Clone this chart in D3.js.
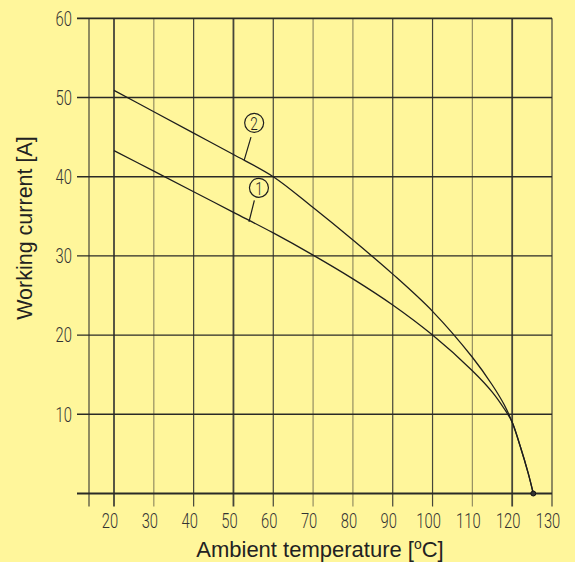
<!DOCTYPE html>
<html lang="en">
<head>
	<meta charset="UTF-8">
	<title>Working current vs ambient temperature</title>
	<script src="https://d3js.org/d3.v7.min.js"></script>
	<style>
		html, body {
			margin: 0;
			padding: 0;
			background-color: #fff69b;
		}
		svg {
			display: block;
		}
		.tick-label {
			font-family: Roboto, "Liberation Sans Narrow", sans-serif;
			font-weight: 300;
			font-size: 20.5px;
			fill: #333;
		}
		.title {
			font-family: Arial, "Liberation Sans", sans-serif;
			font-size: 22px;
			fill: #222;
		}
	</style>
</head>
<body>
<div id="chart"></div>
<script>
	// Tick values
	const xTicks = [20, 30, 40, 50, 60, 70, 80, 90, 100, 110, 120, 130];
	const yTicks = [0, 10, 20, 30, 40, 50, 60];
	const yTickLabels = ["", "10", "20", "30", "40", "50", "60"];

	// Curve 1 (lower) and curve 2 (upper): [temperature, current]
	const curve1 = [
		[20, 43.3], [30, 40.7], [40, 38.1], [50, 35.5], [60, 32.9], [70, 30.1],
		[80, 27.1], [90, 23.8], [100, 20.0], [110, 15.5], [115, 12.8], [118, 10.7],
		[120, 9.0], [122, 6.0], [124, 2.6], [125.3, 0]
	];
	const curve2 = [
		[20, 50.9], [30, 48.2], [40, 45.5], [50, 42.8], [60, 40.0], [70, 36.1],
		[80, 32.0], [90, 27.7], [100, 23.0], [110, 17.2], [115, 13.7], [118, 11.2],
		[120, 9.0], [122, 6.0], [124, 2.6], [125.3, 0]
	];

	// Circled curve labels with leader lines (data coordinates)
	const curveLabels = [
		{ text: "2", cx: 55.2, cy: 46.8, x1: 54.4, y1: 45.0, x2: 52.7, y2: 42.1 },
		{ text: "1", cx: 56.4, cy: 38.6, x1: 55.25, y1: 37.0, x2: 53.9, y2: 34.3 }
	];

	const sizeX = 575;
	const sizeY = 562;
	const squeeze = 0.72; // condensed look of the tick font

	const svg = d3.create("svg")
		.attr("width", sizeX)
		.attr("height", sizeY);

	const xScale = d3.scaleLinear().domain([20, 130]).range([114, 552]);
	const yScale = d3.scaleLinear().domain([0, 60]).range([493.5, 18.3]);

	const gridLeft = xScale(20) - 37;   // horizontal lines stick out to the left
	const frameLeft = xScale(20) - 25;  // left vertical frame line
	const gridBottom = yScale(0) + 13;  // vertical lines stick out below

	// some lines in the scan are greyer, some heavier
	const greyTicks = [30, 70, 80, 110];
	const heavyTicks = [20, 50, 120];

	const grid = svg.append("g");

	// left frame line
	grid.append("line")
		.attr("x1", frameLeft).attr("x2", frameLeft)
		.attr("y1", yScale(60)).attr("y2", gridBottom)
		.attr("stroke", "#45453a")
		.attr("stroke-width", 1.2);

	// vertical grid lines
	grid.selectAll(".vline")
		.data(xTicks)
		.join("line")
		.attr("class", "vline")
		.attr("x1", d => xScale(d)).attr("x2", d => xScale(d))
		.attr("y1", yScale(60)).attr("y2", gridBottom)
		.attr("stroke", d => greyTicks.includes(d) ? "#948e62" : "#45453a")
		.attr("stroke-width", d => heavyTicks.includes(d) ? 1.8 : 1.2);

	// horizontal grid lines
	grid.selectAll(".hline")
		.data(yTicks)
		.join("line")
		.attr("class", "hline")
		.attr("x1", gridLeft).attr("x2", xScale(130))
		.attr("y1", d => yScale(d)).attr("y2", d => yScale(d))
		.attr("stroke", "#2a2a26")
		.attr("stroke-width", d => d === 60 || d === 0 ? 1.8 : 1.4);

	// y tick labels
	svg.selectAll(".ylab")
		.data(yTicks)
		.join("text")
		.attr("class", "tick-label")
		.attr("transform", d => `translate(${gridLeft - 5},${yScale(d)}) scale(${squeeze},1)`)
		.attr("dy", "0.36em")
		.attr("text-anchor", "end")
		.text((d, i) => yTickLabels[i]);

	// x tick labels
	svg.selectAll(".xlab")
		.data(xTicks)
		.join("text")
		.attr("class", "tick-label")
		.attr("transform", d => `translate(${xScale(d) - 4},528) scale(${squeeze},1)`)
		.attr("text-anchor", "middle")
		.text(d => d);

	// curves
	const line = d3.line()
		.x(d => xScale(d[0]))
		.y(d => yScale(d[1]))
		.curve(d3.curveCatmullRom.alpha(0.5));

	[curve1, curve2].forEach(c => {
		svg.append("path")
			.datum(c)
			.attr("d", line)
			.attr("fill", "none")
			.attr("stroke", "#1e1e1e")
			.attr("stroke-width", 1.3);
	});

	// end point
	svg.append("circle")
		.attr("cx", xScale(125.3))
		.attr("cy", yScale(0))
		.attr("r", 2.5)
		.attr("fill", "#333")
		.attr("stroke", "#111");

	// circled labels
	curveLabels.forEach(l => {
		svg.append("line")
			.attr("x1", xScale(l.x1)).attr("y1", yScale(l.y1))
			.attr("x2", xScale(l.x2)).attr("y2", yScale(l.y2))
			.attr("stroke", "#1e1e1e")
			.attr("stroke-width", 1.2);
		svg.append("circle")
			.attr("cx", xScale(l.cx)).attr("cy", yScale(l.cy))
			.attr("r", 9.5)
			.attr("fill", "none")
			.attr("stroke", "#1e1e1e")
			.attr("stroke-width", 1.2);
		svg.append("text")
			.attr("class", "tick-label")
			.attr("transform", `translate(${xScale(l.cx)},${yScale(l.cy)}) scale(${squeeze},1)`)
			.attr("dy", "0.36em")
			.attr("text-anchor", "middle")
			.style("font-size", "19px")
			.style("fill", "#1e1e1e")
			.text(l.text);
	});

	// axis titles
	const xTitle = svg.append("text")
		.attr("class", "title")
		.attr("x", 320)
		.attr("y", 557)
		.attr("text-anchor", "middle")
		.text("Ambient temperature [");
	xTitle.append("tspan")
		.attr("dy", -8)
		.style("font-size", "14px")
		.text("o");
	xTitle.append("tspan")
		.attr("dy", 8)
		.text("C]");

	svg.append("text")
		.attr("class", "title")
		.attr("transform", "translate(32,228) rotate(-90)")
		.attr("text-anchor", "middle")
		.style("font-size", "21.5px")
		.text("Working current [A]");

	document.getElementById("chart").append(svg.node());
</script>
</body>
</html>
